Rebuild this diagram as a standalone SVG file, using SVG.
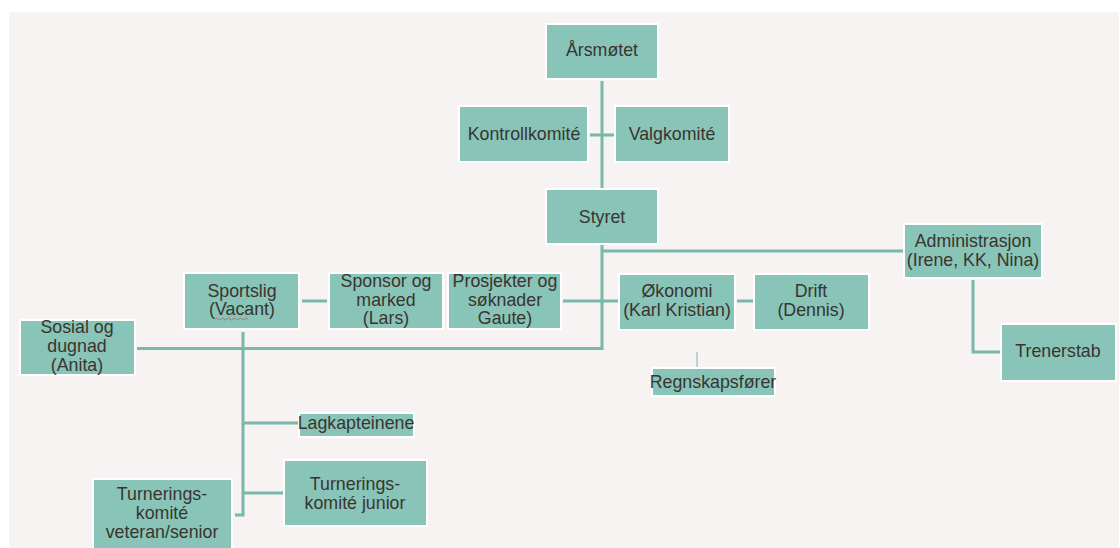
<svg xmlns="http://www.w3.org/2000/svg" width="1120" height="548" viewBox="0 0 1120 548">
<style>
.box{fill:#88c4b8;stroke:#ffffff;stroke-width:2}
.t{font-family:"Liberation Sans",Arial,sans-serif;font-size:17.8px;fill:#3a342f;text-anchor:middle}
.c{fill:none;stroke:#79b8ab;stroke-width:3}
.thin{fill:none;stroke:#79b8ab;stroke-width:1}
</style>
<rect x="0" y="0" width="1120" height="548" fill="#ffffff"/>
<rect x="9" y="12" width="1110" height="536" fill="#f7f3f2"/>
<g id="connectors">
<path class="c" d="M602 81V188"/>
<path class="c" d="M590 135H614"/>
<path class="c" d="M602 245V348.5H137"/>
<path class="c" d="M602 251H903"/>
<path class="c" d="M563 301H618"/>
<path class="c" d="M737 301H753"/>
<path class="c" d="M302 301H327"/>
<path class="thin" d="M697 352V367"/>
<path class="c" d="M973 280V352H1000"/>
<path class="c" d="M243 332V515H235"/>
<path class="c" d="M243 423H298"/>
<path class="c" d="M243 493H283"/>
</g>
<g id="arsmotet"><rect class="box" x="546" y="24" width="112" height="55"/><text class="t" x="602" y="56">Årsmøtet</text></g>
<g id="kontrollkomite"><rect class="box" x="459" y="106" width="129" height="56"/><text class="t" x="524" y="140">Kontrollkomité</text></g>
<g id="valgkomite"><rect class="box" x="615" y="106" width="114" height="56"/><text class="t" x="672" y="140">Valgkomité</text></g>
<g id="styret"><rect class="box" x="546" y="189" width="112" height="55"/><text class="t" x="602" y="223">Styret</text></g>
<g id="administrasjon"><rect class="box" x="904" y="224" width="138" height="54"/><text class="t" x="973" y="247">Administrasjon</text><text class="t" x="973" y="266">(Irene, KK, Nina)</text></g>
<g id="sportslig"><rect class="box" x="184" y="273" width="115" height="56"/><text class="t" x="242" y="297">Sportslig</text><text class="t" x="242" y="315">(Vacant)</text><path d="M215 319q1.5-2 3 0t3 0t3 0t3 0t3 0t3 0t3 0t3 0t3 0t3 0t3 0" fill="none" stroke="#e05050" stroke-width="0.8"/></g>
<g id="sponsor"><rect class="box" x="329" y="273" width="114" height="56"/><text class="t" x="386" y="287">Sponsor og</text><text class="t" x="386" y="306">marked</text><text class="t" x="386" y="324">(Lars)</text></g>
<g id="prosjekter"><rect class="box" x="448" y="273" width="113" height="56"/><text class="t" x="505" y="287">Prosjekter og</text><text class="t" x="505" y="306">søknader</text><text class="t" x="505" y="324">Gaute)</text></g>
<g id="okonomi"><rect class="box" x="619" y="274" width="116" height="56"/><text class="t" x="677" y="297">Økonomi</text><text class="t" x="677" y="316">(Karl Kristian)</text></g>
<g id="drift"><rect class="box" x="754" y="274" width="115" height="56"/><text class="t" x="811" y="297">Drift</text><text class="t" x="811" y="316">(Dennis)</text></g>
<g id="sosial"><rect class="box" x="20" y="320" width="115" height="55"/><text class="t" x="77" y="333">Sosial og</text><text class="t" x="77" y="352">dugnad</text><text class="t" x="77" y="371">(Anita)</text></g>
<g id="trenerstab"><rect class="box" x="1001" y="324" width="115" height="57"/><text class="t" x="1058" y="357">Trenerstab</text></g>
<g id="regnskapsforer"><rect class="box" x="652" y="368" width="123" height="28"/><text class="t" x="713" y="388">Regnskapsfører</text></g>
<g id="lagkapteinene"><rect class="box" x="299" y="413" width="115" height="24"/><text class="t" x="356" y="429">Lagkapteinene</text></g>
<g id="turnering-junior"><rect class="box" x="284" y="460" width="143" height="66"/><text class="t" x="355" y="490">Turnerings-</text><text class="t" x="355" y="509">komité junior</text></g>
<g id="turnering-veteran"><rect class="box" x="93" y="479" width="139" height="72"/><text class="t" x="162" y="500">Turnerings-</text><text class="t" x="162" y="519">komité</text><text class="t" x="162" y="538">veteran/senior</text></g>
</svg>
